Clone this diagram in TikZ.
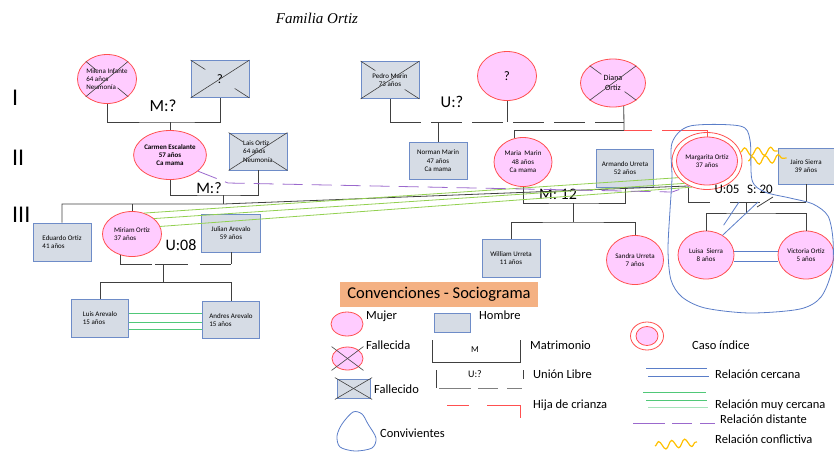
\documentclass[tikz,border=0pt]{standalone}
\usepackage{fontspec}
\setmainfont{Carlito}
\newfontfamily\titulofont{Liberation Serif}
\usetikzlibrary{shapes.geometric, calc, decorations.pathmorphing}

\definecolor{rosa}{RGB}{255,204,255}
\definecolor{rojo}{RGB}{255,80,80}
\definecolor{grisazul}{RGB}{214,220,229}
\definecolor{azulborde}{RGB}{110,140,200}
\definecolor{oscuro}{RGB}{64,64,64}
\definecolor{gris}{RGB}{128,128,128}
\definecolor{azul}{RGB}{90,125,200}
\definecolor{verde}{RGB}{80,200,120}
\definecolor{lima}{RGB}{146,208,80}
\definecolor{morado}{RGB}{155,105,205}
\definecolor{amarillo}{RGB}{255,192,0}
\definecolor{naranja}{RGB}{244,177,131}

\begin{document}
\begin{tikzpicture}[x = 1pt, y = -1pt,
  mujer/.style = {ellipse, draw = rojo, fill = rosa, line width = .8pt, inner sep = 0pt,
    minimum width = 59pt, minimum height = 49pt, align = center, font = \fontsize{7}{8.4}\selectfont},
  hombre/.style = {rectangle, draw = azulborde, fill = grisazul, line width = .8pt, inner sep = 0pt,
    minimum width = 58pt, minimum height = 37pt, align = center, font = \fontsize{7}{8.4}\selectfont},
  indice/.style = {ellipse, draw = rojo, line width = .8pt, inner sep = 0pt},
  cruz/.style = {draw = oscuro, line width = .6pt},
  linea/.style = {draw = oscuro, line width = .8pt},
  union/.style = {linea, dash pattern = on 31pt off 10pt},
  hija/.style = {draw = rojo, line width = .8pt},
  cercana/.style = {draw = azul, line width = .8pt},
  muycerca/.style = {draw = verde, line width = .8pt},
  cercanalima/.style = {draw = lima, line width = .8pt},
  lejana/.style = {draw = morado, line width = .8pt, dash pattern = on 20pt off 9pt},
  conflicto/.style = {draw = amarillo, line width = 1.2pt, decorate,
    decoration = {snake, segment length = 13pt, amplitude = 4pt}},
  convive/.style = {draw = azul, line width = .8pt},
  etiqueta/.style = {inner sep = 0pt, font = \fontsize{16}{18}\selectfont},
  leyenda/.style = {inner sep = 0pt, anchor = west, font = \fontsize{12.5}{14}\selectfont},
  generacion/.style = {inner sep = 0pt, anchor = west, font = \fontsize{24}{26}\selectfont}]
\useasboundingbox (0, 0) rectangle (834, 451);

\node (titulo) [font = \titulofont\itshape\fontsize{15}{17}\selectfont] at (317, 18) {Familia Ortiz};
\node (genI) [generacion] at (12, 98) {I};
\node (genII) [generacion] at (12, 158) {II};
\node (genIII) [generacion] at (12, 215) {III};

% generacion I
\node (milena) [mujer, align = left] at (107, 79) {Milena Infante\\64 años\\Neumonía};
\node (desconocido) [hombre, font = \fontsize{13}{15}\selectfont] at (220, 79) {?};
\node (pedro) [hombre] at (390, 80) {Pedro Marin\\73 años};
\node (incognita) [mujer, font = \fontsize{13}{15}\selectfont] at (507, 76) {?};
\node (diana) [mujer, minimum width = 65pt, minimum height = 48pt, font = \fontsize{8}{9.6}\selectfont] at (613, 83) {Diana\\Ortiz};

% generacion II
\node (carmen) [mujer, font = \fontsize{7}{8.4}\selectfont\bfseries] at (170, 155) {Carmen Escalante\\57 años\\Ca mama};
\node (lais) [hombre, align = left] at (258, 151.5) {Lais Ortiz\\64 años\\Neumonía};
\node (norman) [hombre] at (438, 161) {Norman Marin\\47 años\\Ca mama};
\node (maria) [mujer, minimum width = 58pt] at (523, 162) {Maria~ Marin\\48 años\\Ca mama};
\node (armando) [hombre, minimum width = 57pt, minimum height = 38pt] at (625, 168) {Armando Urreta\\52 años};
\node (margarita) [mujer, minimum width = 57pt, minimum height = 48pt] at (707, 161) {Margarita Ortiz\\37 años};
\node (margaritaout) [indice, minimum width = 70pt, minimum height = 57pt] at (707, 161) {};
\node (jairo) [hombre, minimum width = 56pt, minimum height = 36pt] at (806, 166) {Jairo Sierra\\39 años};

% generacion III
\node (eduardo) [hombre, align = left, minimum height = 38pt] at (62, 242) {Eduardo Ortiz\\41 años};
\node (miriam) [mujer, align = left, minimum height = 45pt] at (132, 234) {Miriam Ortiz\\37 años};
\node (julian) [hombre, minimum width = 59pt, minimum height = 38pt] at (231, 233) {Julian Arevalo\\59 años};
\node (william) [hombre, minimum height = 38pt] at (511, 258) {William Urreta\\11 años};
\node (sandra) [mujer, minimum width = 57pt] at (635, 260) {Sandra Urreta\\7 años};
\node (luisa) [mujer, minimum width = 56pt, minimum height = 48pt] at (706, 255) {Luisa~ Sierra\\8 años};
\node (victoria) [mujer, minimum width = 56pt, minimum height = 48pt] at (806, 255) {Victoria Ortiz\\5 años};
\node (luis) [hombre, align = left, minimum width = 57pt, minimum height = 38pt] at (100, 318) {Luis Arevalo\\15 años};
\node (andres) [hombre, align = left, minimum width = 57pt] at (231, 320) {Andres Arevalo\\15 años};

% fallecidos
\foreach \n in {milena, desconocido, pedro, lais, diana} {
  \draw [cruz] (\n.south west) -- (\n.north east);
  \draw [cruz] (\n.north west) -- ($(\n.north west)!.25!(\n.south east)$);
  \draw [cruz] (\n.south east) -- ($(\n.south east)!.25!(\n.north west)$);
}

% uniones I
\coordinate (mI) at (170, 122);
\draw [linea] (milena) |- (mI) -| (desconocido);
\draw [linea] (mI) -- (carmen);
\node (lblMI) [etiqueta, font = \fontsize{17}{19}\selectfont] at (163, 106) {M:?};

\coordinate (uPedro) at (390, 122);
\coordinate (uDiana) at (624, 122);
\coordinate (crianza) at (624, 130);
\draw [linea] (pedro) -- (uPedro);
\draw [linea] (incognita) -- (incognita |- uPedro);
\draw [union] (uPedro) -- (uDiana);
\draw [linea] (diana.-65) -- (crianza);
\draw [linea] (norman) -- (norman |- uPedro);
\draw [linea] (maria.110) |- (crianza);
\draw [hija, dash pattern = on 28pt off 10pt on 60pt off 10pt] (crianza) -| (margarita);
\node (lblUI) [etiqueta, font = \fontsize{16.5}{18}\selectfont] at (452, 102) {U:?};

% uniones II
\coordinate (mII) at (223, 195);
\coordinate (herm) at (223, 204);
\draw [linea] (carmen) |- (mII) -| (lais);
\draw [linea] (mII) -- (herm);
\node (lblMII) [etiqueta] at (209, 188) {M:?};

\coordinate (mMA) at (573, 203);
\coordinate (hMA) at (573, 222);
\draw [linea] (maria) |- (mMA) -| (armando);
\draw [linea] (mMA) -- (hMA);
\draw [linea] (william) |- (hMA) -| (sandra);
\node (lblMA) [etiqueta] at (558, 194) {M: 12};

\coordinate (uMarg) at (688, 186);
\coordinate (uMarg2) at (688, 202);
\coordinate (uJairo) at (806, 202);
\coordinate (mMJ) at (746, 202);
\coordinate (hMJ) at (746, 213);
\coordinate (sep) at (765, 202);
\draw [linea] (uMarg) -- (uMarg2);
\draw [linea, dash pattern = on 22pt off 20pt on 30pt off 10pt on 40pt off 10pt] (uMarg2) -- (uJairo);
\draw [linea] (jairo) -- (uJairo);
\draw [linea] (sep) ++(-8, 5) -- ++(16, -10);
\draw [linea] (mMJ) -- (hMJ);
\draw [linea] (luisa) |- (hMJ) -| (victoria);
\node (lblU05) [etiqueta, font = \fontsize{13}{15}\selectfont] at (727, 189) {U:05};
\node (lblS20) [etiqueta, font = \fontsize{13}{15}\selectfont] at (760, 189) {S: 20};

% uniones III
\draw [linea] (eduardo) |- (herm) -- (uMarg);
\draw [linea] (miriam) -- (miriam |- herm);

\coordinate (uMiriam) at (120, 264);
\coordinate (uJulian) at (231, 264);
\coordinate (mMJu) at (163, 264);
\coordinate (hMJu) at (163, 282);
\draw [linea] (miriam.-120) -- (miriam.-120 |- uMiriam);
\draw [linea, dash pattern = on 32pt off 3pt on 33pt off 12pt] (miriam.-120 |- uMiriam) -- (uJulian);
\draw [linea] (julian) -- (uJulian);
\draw [linea] (mMJu) -- (hMJu);
\draw [linea] (luis) |- (hMJu) -| (andres);
\node (lblU08) [etiqueta] at (181, 245) {U:08};

% relaciones
\foreach \dy in {-5, 4, 11}
  \draw [muycerca] (luis.east) ++(0, \dy) coordinate (p) -- (p -| andres.west);
\foreach \dy in {-4, 6}
  \draw [cercana] (luisa.east) ++(0, \dy) coordinate (q) -- (q -| victoria.west);

\draw [cercanalima] (miriam.60) -- (margaritaout.210);
\draw [cercanalima] (miriam.35) -- (margaritaout.225);
\draw [cercanalima] (miriam.15) -- (margaritaout.240);
\draw [lejana] (carmen.-30) -- (228, 183) -- (672, 192) -- (margaritaout.235);

\draw [conflicto] (margaritaout.15) -- ([yshift = 15pt]jairo.west);
\draw [conflicto] ([xshift = 6pt]margaritaout.east) -- ([shift = {(9pt, 8pt)}]jairo.west);

\coordinate (cer1) at (739, 202);
\coordinate (cer2) at (758, 202);
\draw [cercana] ([shift = {(1pt, 10pt)}]luisa.50) -- (cer1);
\draw [cercana] (luisa.50) -- (cer2);

\draw [convive] plot [smooth cycle] coordinates {(672, 143) (690, 126) (740, 126) (750, 140)
  (752, 180) (765, 192) (790, 198) (813, 204) (828, 216) (833, 240) (832, 270) (821, 297)
  (800, 309) (750, 313) (705, 308) (682, 297) (671, 280) (668, 250) (670, 210) (672, 178)};

% convenciones
\node (convenciones) [fill = naranja, minimum width = 198pt, minimum height = 25pt, font = \fontsize{16.5}{18}\selectfont] at (439, 294.5) {Convenciones - Sociograma};

\node (legMujer) [mujer, minimum width = 32pt, minimum height = 24pt] at (347, 324) {};
\node (txtMujer) [leyenda] at (366, 316) {Mujer};
\node (legHombre) [hombre, minimum width = 36pt, minimum height = 19pt] at (452, 322.5) {};
\node (txtHombre) [leyenda] at (479, 315) {Hombre};

\node (legFallecida) [mujer, minimum width = 31pt, minimum height = 23pt] at (347.5, 358.5) {};
\draw [cruz] (legFallecida.west |- legFallecida.south) -- (legFallecida.east |- legFallecida.north);
\draw [cruz] (legFallecida.west |- legFallecida.north) -- (legFallecida.east |- legFallecida.south);
\node (txtFallecida) [leyenda] at (366, 345) {Fallecida};

\node (legFallecido) [hombre, minimum width = 33pt, minimum height = 19pt] at (353.5, 388.5) {};
\draw [cruz, shorten <= -2pt, shorten >= -2pt] (legFallecido.south west) -- (legFallecido.north east);
\draw [cruz, shorten <= -2pt, shorten >= -2pt] (legFallecido.north west) -- (legFallecido.south east);
\node (txtFallecido) [leyenda] at (374, 389) {Fallecido};

\draw [convive] plot [smooth cycle] coordinates {(353, 412) (362, 414) (368, 424) (376, 438)
  (372, 448) (355, 451) (340, 447) (337, 436) (342, 424)};
\node (txtConvive) [leyenda] at (380, 433) {Convivientes};

\draw [linea] (432, 340) -- (432, 362) -- (520, 362) -- (520, 340);
\node (legM) [inner sep = 0pt, font = \fontsize{9}{10}\selectfont] at (475, 350) {M};
\node (txtMatrimonio) [leyenda] at (530, 345) {Matrimonio};

\draw [linea] (436, 370) -- (436, 388);
\draw [linea] (523, 370) -- (523, 379);
\draw [draw = gris, line width = .8pt, dash pattern = on 32pt off 7pt on 20pt off 9pt on 15pt] (439, 388) -- (522, 388);
\node (legU) [inner sep = 0pt, font = \fontsize{10}{11}\selectfont] at (475, 374) {U:?};
\node (txtUnion) [leyenda] at (533, 374) {Unión Libre};

\draw [hija, dash pattern = on 22pt off 18pt on 50pt off 10pt] (447, 405) -- (520, 405) -- (520, 418);
\node (txtHija) [leyenda] at (533, 405) {Hija de crianza};

\node (legCaso) [mujer, minimum width = 22pt, minimum height = 19pt] at (647, 336) {};
\node (legCasoOut) [indice, minimum width = 33pt, minimum height = 28pt] at (647, 336) {};
\node (txtCaso) [leyenda] at (692, 345) {Caso índice};

\draw [cercana] (646, 368) -- (707, 368);
\draw [cercana] (648, 376) -- (709, 376);
\node (txtCercana) [leyenda] at (715, 374) {Relación cercana};

\draw [muycerca] (643, 392) -- (706, 392);
\draw [muycerca] (646, 400) -- (707, 400);
\draw [muycerca, draw = verde!50] (648, 407) -- (708, 407);
\node (txtMuyCercana) [leyenda] at (715, 405) {Relación muy cercana};

\draw [draw = morado, line width = .8pt, dash pattern = on 32pt off 7pt on 20pt off 8pt on 15pt] (633, 423) -- (715, 423);
\node (txtDistante) [leyenda] at (720, 419) {Relación distante};

\draw [conflicto] (655, 446) -- (697, 442);
\node (txtConflicto) [leyenda] at (715, 439) {Relación conflictiva};
\end{tikzpicture}
\end{document}
